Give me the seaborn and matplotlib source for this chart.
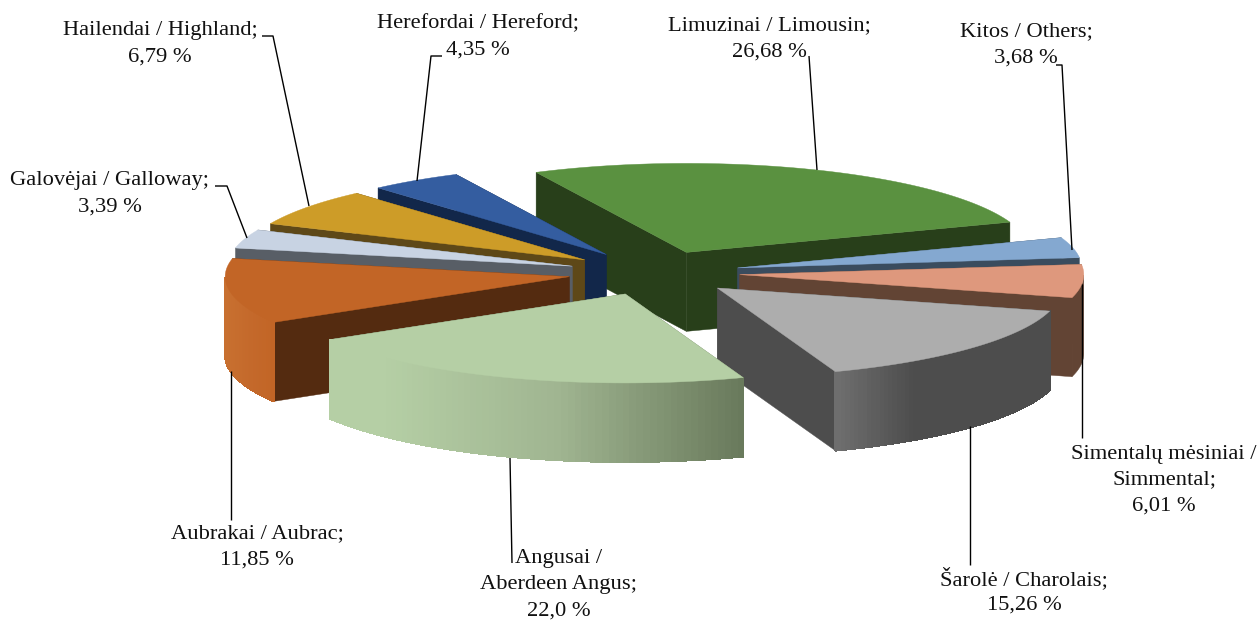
import numpy as np
import matplotlib
matplotlib.use("Agg")
import matplotlib.pyplot as plt
from matplotlib.collections import PolyCollection
from matplotlib.colors import LinearSegmentedColormap
from matplotlib.patches import Polygon
import seaborn as sns

# ---- data ----
breeds = ["Limuzinai / Limousin;", "Kitos / Others;", "Simentalų mėsiniai /\nSimmental;",
          "Šarolė / Charolais;", "Angusai /\nAberdeen Angus;", "Aubrakai / Aubrac;",
          "Galovėjai / Galloway;", "Hailendai / Highland;", "Herefordai / Hereford;"]
shares = [26.68, 3.68, 6.01, 15.26, 22.0, 11.85, 3.39, 6.79, 4.35]
share_text = ["26,68 %", "3,68 %", "6,01 %", "15,26 %", "22,0 %", "11,85 %", "3,39 %", "6,79 %", "4,35 %"]

# ---- styles ----
top_colors = ["#5A9140", "#84A8D0", "#DE987D", "#ADADAD", "#B5CFA5", "#C26526", "#C8D3E3", "#CD9C28", "#345DA0"]
wall_colors = ["#283F1A", "#3A4C5E", "#624434", "#4D4D4D", "#6A7A5C", "#542B10", "#585E66", "#5E4818", "#12274A"]
rim_stops = {
    3: [(0.0, "#6E6E6E"), (0.35, "#4D4D4D"), (1.0, "#4D4D4D")],
    4: [(0.0, "#B5CFA5"), (0.12, "#B5CFA5"), (0.55, "#A0B591"), (1.0, "#697A5C")],
    5: [(0.0, "#C87030"), (0.5, "#C4692B"), (1.0, "#C26526")],
}
draw_order = [0, 8, 7, 6, 1, 2, 5, 3, 4]
label_pos = [(769, 26), (1026, 32), (1164, 454), (1024, 579), (559, 559), (257, 534), (110, 181), (160, 31), (478, 24)]
line_gap = 26
leaders = [
    [(809, 56), (817, 170)],
    [(1056, 65), (1062, 65), (1072, 250)],
    [(1082, 284), (1082, 438)],
    [(970, 426), (970, 565)],
    [(510, 458), (512, 563)],
    [(231, 371), (231, 520)],
    [(215, 186), (227, 186), (247, 238)],
    [(262, 36), (273, 36), (309, 206)],
    [(442, 56), (431, 56), (417, 181)],
]

CX, CY = 654, 273      # pie centre
RX, RY = 344, 89       # top-face ellipse radii
DEPTH = 79             # extrusion height
EXPLODE = 0.25
START = 115.9          # degrees, runs clockwise

sns.set_theme(style="white")
plt.rcParams["font.family"] = ["Liberation Serif", "DejaVu Serif"]

fig = plt.figure(figsize=(12.6, 6.2), dpi=100)
ax = fig.add_axes([0, 0, 1, 1])
ax.set_xlim(0, 1260)
ax.set_ylim(620, 0)
ax.axis("off")

fractions = np.array(shares) / np.sum(shares)
edges = START - 360 * np.concatenate([[0], np.cumsum(fractions)])


def arc(apex, a0, a1, n=70):
    th = np.radians(np.linspace(a0, a1, n))
    return np.column_stack([apex[0] + RX * np.cos(th), apex[1] - RY * np.sin(th)]), th


for order, idx in enumerate(draw_order):
    a0, a1 = edges[idx], edges[idx + 1]
    mid = np.radians((a0 + a1) / 2)
    apex = np.array([CX + EXPLODE * RX * np.cos(mid), CY - EXPLODE * RY * np.sin(mid)])
    pts, th = arc(apex, a0, a1)
    drop = np.array([0, DEPTH])
    wall = wall_colors[idx]
    z = order * 3
    # radial walls
    for end in (pts[0], pts[-1]):
        q = np.array([apex, end, end + drop, apex + drop])
        ax.add_patch(Polygon(q, closed=True, facecolor=wall, edgecolor=wall, lw=0.3, zorder=z + 1))
    # curved rim, front-facing part only
    front = pts[np.sin(th) <= 0]
    if len(front) >= 2:
        if idx in rim_stops:
            strips = [np.array([front[i], front[i + 1], front[i + 1] + drop, front[i] + drop])
                      for i in range(len(front) - 1)]
            cmap = LinearSegmentedColormap.from_list("rim", rim_stops[idx])
            xs = np.array([s[:, 0].mean() for s in strips])
            cols = cmap((xs - xs.min()) / (xs.max() - xs.min()))
            ax.add_collection(PolyCollection(strips, facecolors=cols, edgecolors=cols, linewidths=0.7,
                                             antialiaseds=False, zorder=z + 2))
        else:
            ax.add_patch(Polygon(np.vstack([front, (front + drop)[::-1]]), closed=True, facecolor=wall,
                                 edgecolor=wall, lw=0.3, zorder=z + 2))
    # top face
    ax.add_patch(Polygon(np.vstack([apex, pts]), closed=True, facecolor=top_colors[idx],
                         edgecolor=top_colors[idx], lw=0.3, zorder=z + 3))

for path in leaders:
    p = np.array(path)
    ax.plot(p[:, 0], p[:, 1], color="black", lw=1.0, zorder=50, solid_capstyle="butt")

for idx, (x, y) in enumerate(label_pos):
    lines = (breeds[idx] + "\n" + share_text[idx]).split("\n")
    for k, line in enumerate(lines):
        ax.text(x, y + k * line_gap, line, ha="center", va="center", fontsize=16.2, color="#111111", zorder=60)

fig.savefig("out.png", dpi=100, facecolor="white")
